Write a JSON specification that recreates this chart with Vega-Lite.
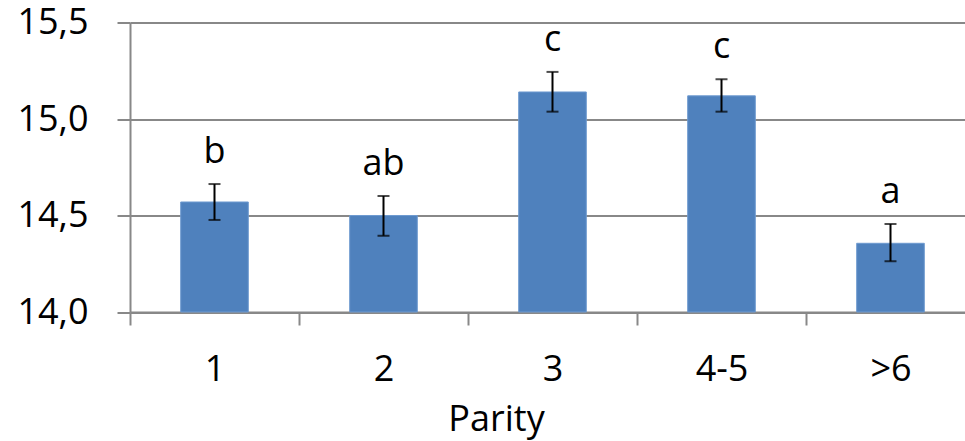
{
  "$schema": "https://vega.github.io/schema/vega-lite/v6.json",
  "autosize": "none",
  "width": 845,
  "height": 289.5,
  "padding": {"left": 130, "top": 22.5, "right": 0, "bottom": 129},
  "background": "white",
  "config": {
    "view": {"stroke": null},
    "font": "Open Sans"
  },
  "data": {
    "values": [
      {"parity": "1", "mean": 14.57, "lo": 14.477, "hi": 14.663, "letter": "b"},
      {"parity": "2", "mean": 14.50, "lo": 14.395, "hi": 14.601, "letter": "ab"},
      {"parity": "3", "mean": 15.14, "lo": 15.038, "hi": 15.244, "letter": "c"},
      {"parity": "4-5", "mean": 15.12, "lo": 15.038, "hi": 15.206, "letter": "c"},
      {"parity": ">6", "mean": 14.356, "lo": 14.263, "hi": 14.456, "letter": "a"}
    ]
  },
  "encoding": {
    "x": {
      "field": "parity",
      "type": "nominal",
      "sort": null,
      "scale": {"paddingInner": 0, "paddingOuter": 0},
      "axis": {
        "title": "Parity",
        "titleFont": "Open Sans",
        "titleFontSize": 36,
        "titleFontWeight": "normal",
        "titleColor": "black",
        "titleX": 366,
        "titleY": 118,
        "titleBaseline": "alphabetic",
        "titleAlign": "center",
        "titleAnchor": null,
        "labelAngle": 0,
        "labelFontSize": 36,
        "labelColor": "black",
        "labelBaseline": "alphabetic",
        "labelPadding": 55,
        "tickBand": "extent",
        "tickSize": 13,
        "tickColor": "#888888",
        "tickWidth": 2,
        "domainColor": "#888888",
        "domainWidth": 2,
        "grid": false
      }
    }
  },
  "layer": [
    {
      "mark": {"type": "bar", "color": "#4F81BD", "stroke": "#6E9AD0", "strokeWidth": 1, "width": {"band": 0.4}},
      "encoding": {
        "y": {
          "field": "mean",
          "type": "quantitative",
          "scale": {"domain": [14, 15.5], "nice": false, "zero": false},
          "axis": {
            "title": null,
            "values": [14, 14.5, 15, 15.5],
            "labelExpr": "replace(format(datum.value, '.1f'), '.', ',')",
            "labelFontSize": 36,
            "labelColor": "black",
            "labelPadding": 29,
            "tickSize": 13,
            "tickColor": "#888888",
            "tickWidth": 2,
            "domainColor": "#888888",
            "domainWidth": 2,
            "grid": true,
            "gridColor": "#888888",
            "gridWidth": 2
          }
        },
        "y2": {"datum": 14}
      }
    },
    {
      "mark": {"type": "rule", "color": "black", "strokeWidth": 2},
      "encoding": {
        "y": {"field": "lo", "type": "quantitative"},
        "y2": {"field": "hi"}
      }
    },
    {
      "mark": {"type": "tick", "color": "black", "thickness": 2, "size": 12, "orient": "horizontal"},
      "encoding": {
        "y": {"field": "lo", "type": "quantitative"}
      }
    },
    {
      "mark": {"type": "tick", "color": "black", "thickness": 2, "size": 12, "orient": "horizontal"},
      "encoding": {
        "y": {"field": "hi", "type": "quantitative"}
      }
    },
    {
      "mark": {"type": "text", "fontSize": 36, "color": "black", "baseline": "alphabetic", "dy": -21},
      "encoding": {
        "y": {"field": "hi", "type": "quantitative"},
        "text": {"field": "letter"}
      }
    }
  ]
}
